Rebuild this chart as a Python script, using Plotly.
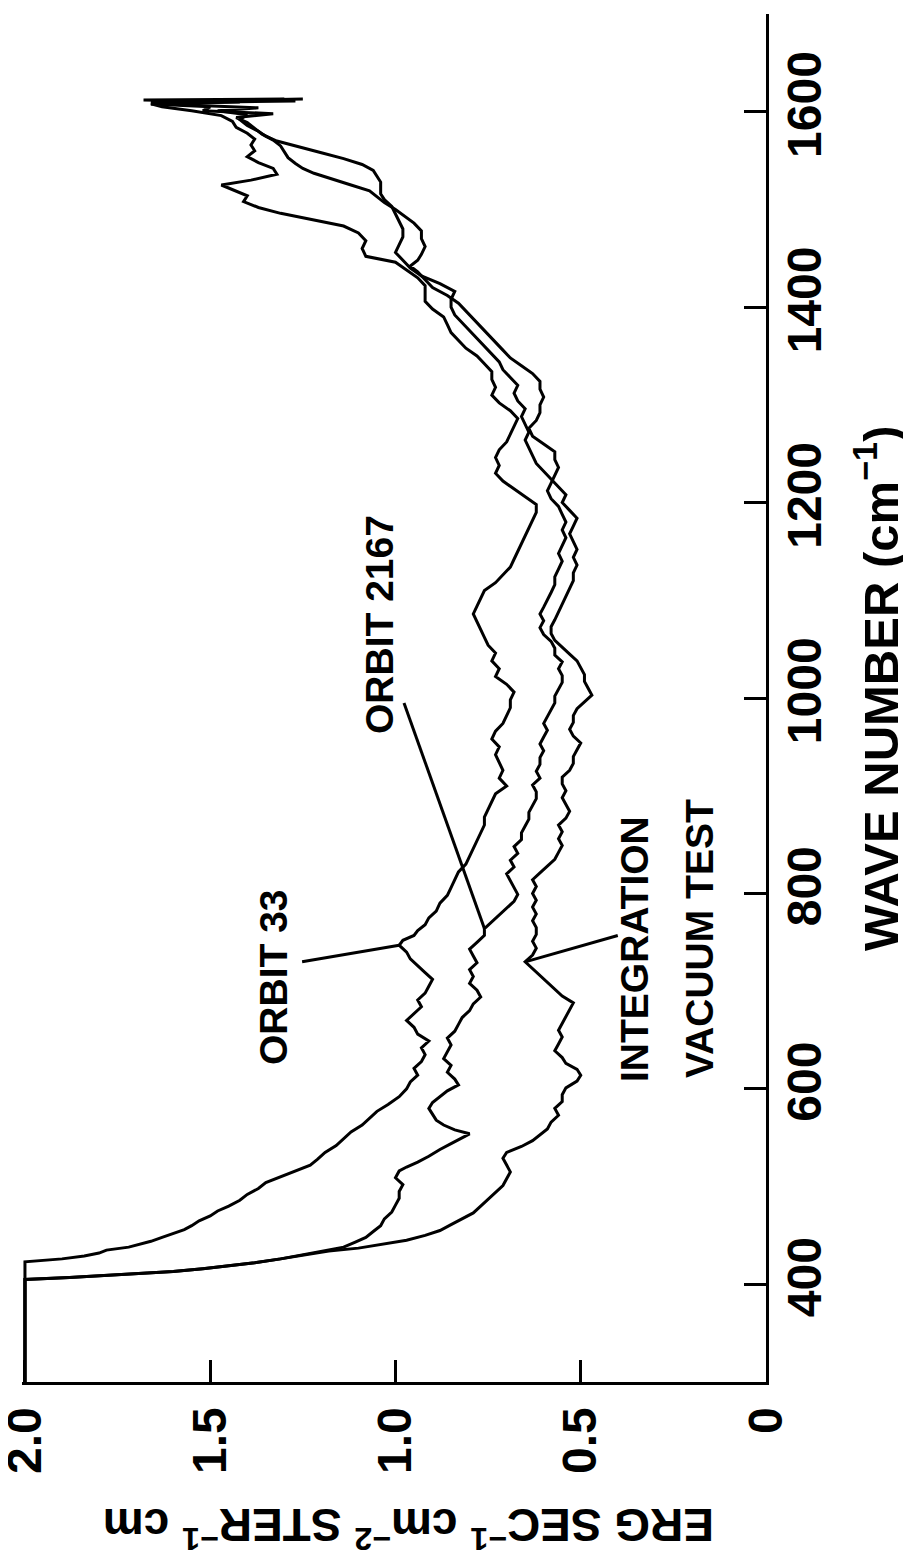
import plotly.graph_objects as go

# ---------------- data ----------------
orbit33_wn = [300, 423, 426, 429, 432, 435, 438, 441, 444, 448, 452, 456, 460, 465, 470, 475, 480, 486, 492, 498,
              504, 510, 516, 522, 528, 535, 542, 549, 556, 563, 570, 577, 584, 592, 600, 607, 614, 621, 628, 635,
              642, 649, 656, 663, 670, 677, 684, 691, 698, 705, 712, 719, 726, 733, 740, 747, 752, 757, 762, 768,
              775, 782, 790, 798, 806, 814, 822, 830, 838, 846, 854, 862, 870, 878, 886, 894, 902, 910, 918, 926,
              934, 942, 950, 958, 966, 974, 982, 990, 998, 1006, 1014, 1022, 1030, 1038, 1046, 1054, 1062, 1070,
              1078, 1086, 1094, 1102, 1110, 1118, 1126, 1134, 1142, 1150, 1158, 1166, 1174, 1182, 1190, 1198,
              1206, 1214, 1222, 1230, 1238, 1246, 1254, 1262, 1270, 1278, 1286, 1294, 1302, 1310, 1318, 1326,
              1334, 1342, 1350, 1358, 1366, 1374, 1382, 1390, 1398, 1406, 1414, 1422, 1430, 1438, 1446, 1452,
              1460, 1468, 1476, 1483, 1490, 1496, 1502, 1508, 1514, 1520, 1525, 1530, 1536, 1542, 1548, 1554,
              1560, 1566, 1572, 1578, 1584, 1590, 1596, 1601, 1605, 1608, 1610, 1612, 1613]
orbit33_val = [2.0, 2.0, 1.90, 1.84, 1.80, 1.78, 1.72, 1.69, 1.66, 1.63, 1.60, 1.57, 1.55, 1.53, 1.50, 1.48, 1.45, 1.42, 1.40, 1.37,
               1.35, 1.31, 1.27, 1.23, 1.21, 1.19, 1.16, 1.14, 1.12, 1.09, 1.07, 1.05, 1.02, 0.99, 0.97, 0.96, 0.94, 0.95, 0.93, 0.92,
               0.93, 0.91, 0.94, 0.95, 0.97, 0.95, 0.93, 0.94, 0.92, 0.91, 0.90, 0.92, 0.94, 0.96, 0.97, 0.99, 0.98, 0.95, 0.94, 0.92,
               0.91, 0.89, 0.88, 0.86, 0.85, 0.84, 0.83, 0.81, 0.80, 0.79, 0.78, 0.77, 0.76, 0.76, 0.75, 0.74, 0.73, 0.70, 0.72, 0.71,
               0.72, 0.73, 0.72, 0.74, 0.73, 0.71, 0.70, 0.69, 0.69, 0.68, 0.70, 0.73, 0.72, 0.74, 0.73, 0.75, 0.76, 0.77,
               0.78, 0.79, 0.78, 0.77, 0.76, 0.73, 0.71, 0.69, 0.68, 0.67, 0.66, 0.65, 0.64, 0.63, 0.62, 0.62,
               0.65, 0.68, 0.71, 0.73, 0.72, 0.73, 0.72, 0.70, 0.69, 0.68, 0.67, 0.69, 0.72, 0.74, 0.73, 0.74,
               0.74, 0.76, 0.78, 0.81, 0.83, 0.85, 0.86, 0.87, 0.90, 0.92, 0.92, 0.92, 0.94, 0.97, 1.00, 1.08,
               1.09, 1.08, 1.10, 1.14, 1.23, 1.31, 1.37, 1.41, 1.40, 1.44, 1.47, 1.39, 1.32, 1.33, 1.37, 1.40,
               1.38, 1.39, 1.38, 1.40, 1.43, 1.44, 1.47, 1.55, 1.63, 1.66, 1.42, 1.68, 1.30]

orbit2167_wn = [300, 405, 407, 409, 411, 413, 416, 419, 422, 426, 430, 434, 438, 443, 448, 454, 460, 467, 474, 481,
                488, 495, 502, 509, 516, 520, 525, 531, 538, 544, 550, 554, 558, 563, 568, 574, 580, 586, 592, 598,
                604, 610, 617, 624, 631, 638, 645, 652, 659, 666, 673, 680, 687, 694, 701, 708, 715, 722, 729, 736,
                743, 750, 757, 764, 771, 778, 785, 792, 799, 806, 813, 820, 827, 834, 841, 848, 855, 862, 869, 876,
                883, 890, 897, 904, 911, 918, 925, 932, 939, 946, 953, 960, 967, 974, 981, 988, 995, 1002, 1009, 1016,
                1023, 1030, 1037, 1044, 1051, 1058, 1065, 1072, 1079, 1086, 1093, 1100, 1108, 1116, 1124, 1132, 1140,
                1148, 1156, 1164, 1172, 1180, 1188, 1196, 1204, 1212, 1220, 1228, 1236, 1244, 1252, 1260, 1268, 1276,
                1284, 1292, 1300, 1308, 1316, 1324, 1332, 1340, 1348, 1356, 1364, 1372, 1380, 1388, 1396, 1404, 1412,
                1420, 1428, 1436, 1442, 1448, 1454, 1462, 1470, 1478, 1486, 1494, 1500, 1507, 1513, 1519, 1525, 1531,
                1537, 1542, 1547, 1553, 1559, 1565, 1571, 1577, 1583, 1589, 1594, 1598, 1601, 1605, 1608, 1610, 1611]
orbit2167_val = [2.0, 2.0, 1.88, 1.78, 1.68, 1.60, 1.52, 1.45, 1.38, 1.31, 1.25, 1.19, 1.14, 1.11, 1.08, 1.06, 1.04, 1.03, 1.01, 1.00,
                 0.99, 0.99, 0.98, 1.00, 0.99, 0.97, 0.94, 0.91, 0.88, 0.85, 0.82, 0.80, 0.84, 0.87, 0.89, 0.90, 0.91, 0.90, 0.88, 0.86,
                 0.83, 0.84, 0.86, 0.85, 0.87, 0.86, 0.85, 0.86, 0.84, 0.83, 0.82, 0.80, 0.79, 0.77, 0.78, 0.80, 0.79, 0.80, 0.78, 0.79,
                 0.80, 0.78, 0.76, 0.76, 0.74, 0.72, 0.70, 0.68, 0.67, 0.68, 0.69, 0.70, 0.68, 0.69, 0.67, 0.68, 0.66, 0.66, 0.65, 0.64,
                 0.64, 0.63, 0.62, 0.62, 0.63, 0.61, 0.62, 0.61, 0.61, 0.60, 0.61, 0.60, 0.59, 0.60, 0.59, 0.58, 0.57, 0.57, 0.56, 0.55,
                 0.55, 0.56, 0.55, 0.57, 0.57, 0.58, 0.60, 0.61, 0.60, 0.61, 0.60, 0.59, 0.58, 0.57, 0.57, 0.56, 0.55,
                 0.56, 0.55, 0.54, 0.55, 0.54, 0.55, 0.56, 0.58, 0.59, 0.58, 0.57, 0.56, 0.57, 0.57, 0.60, 0.63, 0.64,
                 0.62, 0.61, 0.61, 0.60, 0.61, 0.61, 0.63, 0.66, 0.69, 0.71, 0.73, 0.75, 0.77, 0.79, 0.81, 0.83, 0.86,
                 0.90, 0.92, 0.94, 0.96, 0.94, 0.93, 0.92, 0.93, 0.93, 0.95, 0.98, 1.00, 1.03, 1.05, 1.07, 1.12, 1.17,
                 1.22, 1.25, 1.27, 1.29, 1.30, 1.31, 1.33, 1.36, 1.38, 1.40, 1.43, 1.33, 1.52, 1.50, 1.66, 1.47, 1.27]

vacuum_wn = [300, 405, 407, 409, 411, 413, 416, 419, 422, 426, 430, 434, 437, 441, 445, 450, 455, 461, 467, 473,
             480, 487, 494, 501, 508, 515, 522, 529, 535, 541, 547, 553, 559, 566, 573, 580, 587, 594, 601, 608,
             614, 620, 626, 632, 639, 646, 653, 660, 667, 674, 681, 688, 695, 702, 709, 716, 723, 730, 737, 744,
             751, 758, 765, 772, 779, 786, 793, 800, 807, 814, 821, 828, 835, 842, 849, 856, 863, 870, 877, 884,
             891, 898, 905, 912, 919, 926, 933, 940, 947, 954, 961, 968, 975, 982, 989, 996, 1003, 1010, 1017, 1024,
             1031, 1038, 1045, 1052, 1059, 1066, 1073, 1080, 1088, 1096, 1104, 1112, 1120, 1128, 1136, 1144, 1152,
             1160, 1168, 1176, 1184, 1192, 1200, 1208, 1216, 1224, 1232, 1240, 1248, 1256, 1264, 1272, 1280, 1288,
             1296, 1304, 1312, 1320, 1328, 1336, 1344, 1352, 1360, 1368, 1376, 1384, 1392, 1400, 1408, 1416, 1424,
             1432, 1440, 1448, 1456, 1464, 1472, 1480, 1488, 1496, 1503, 1510, 1516, 1522, 1528, 1534, 1540, 1546,
             1552, 1558, 1564, 1570, 1575, 1580, 1586, 1592, 1597, 1601, 1604, 1607, 1610, 1612, 1613]
vacuum_val = [2.0, 2.0, 1.88, 1.78, 1.68, 1.60, 1.52, 1.45, 1.38, 1.31, 1.25, 1.18, 1.10, 1.03, 0.97, 0.92, 0.88, 0.85, 0.82, 0.79,
              0.77, 0.75, 0.73, 0.71, 0.70, 0.69, 0.70, 0.71, 0.70, 0.66, 0.63, 0.61, 0.59, 0.58, 0.56, 0.57, 0.55, 0.55, 0.54, 0.51,
              0.50, 0.51, 0.54, 0.55, 0.57, 0.56, 0.55, 0.56, 0.55, 0.54, 0.53, 0.52, 0.55, 0.57, 0.59, 0.61, 0.63, 0.65, 0.63, 0.62,
              0.63, 0.62, 0.62, 0.63, 0.62, 0.63, 0.62, 0.63, 0.62, 0.63, 0.61, 0.59, 0.57, 0.56, 0.55, 0.56, 0.55, 0.56, 0.54, 0.53,
              0.54, 0.55, 0.54, 0.55, 0.55, 0.53, 0.52, 0.52, 0.51, 0.50, 0.52, 0.53, 0.52, 0.52, 0.51, 0.49, 0.47, 0.48, 0.49, 0.49,
              0.50, 0.51, 0.53, 0.55, 0.57, 0.58, 0.58, 0.57, 0.56, 0.55, 0.54, 0.53, 0.52, 0.52, 0.51, 0.52, 0.51,
              0.52, 0.53, 0.52, 0.51, 0.53, 0.55, 0.54, 0.56, 0.58, 0.60, 0.62, 0.63, 0.64, 0.65, 0.64, 0.65, 0.66,
              0.65, 0.67, 0.68, 0.67, 0.69, 0.71, 0.72, 0.74, 0.76, 0.78, 0.80, 0.82, 0.84, 0.85, 0.85, 0.84, 0.88,
              0.93, 0.96, 0.98, 1.00, 0.99, 0.98, 0.98, 0.99, 1.00, 1.01, 1.03, 1.04, 1.04, 1.04, 1.05, 1.06, 1.09,
              1.14, 1.20, 1.26, 1.32, 1.35, 1.37, 1.40, 1.42, 1.40, 1.48, 1.37, 1.58, 1.66, 1.42, 1.25]

radiance_ticks = [0, 0.5, 1.0, 1.5, 2.0]
radiance_ticktext = ["0", "0.5", "1.0", "1.5", "2.0"]
wn_ticks = [400, 600, 800, 1000, 1200, 1400, 1600]

# ---------------- layout helpers ----------------
# the page body has an 8px margin, so the figure is drawn 8px in from the window corner
OFF = 8
W, H = 911 - 2 * OFF, 1560 - 2 * OFF
L, R, T, B = 14, 137, 6, 170
PW, PH = W - L - R, H - T - B


def paper(px, py):
    """window pixel -> paper coordinate"""
    return (px - OFF - L) / PW, (H - B - (py - OFF)) / PH


FONT = "Liberation Sans, Arial, Helvetica, sans-serif"
INK = "black"

fig = go.Figure()
for wn, val in [(orbit33_wn, orbit33_val), (orbit2167_wn, orbit2167_val), (vacuum_wn, vacuum_val)]:
    fig.add_trace(go.Scatter(x=val, y=wn, mode="lines",
                             line=dict(color=INK, width=3), hoverinfo="skip",
                             showlegend=False))

# leader lines (data coordinates: value, wave number)
leaders = [((1.252, 730), (0.99, 747)),
           ((0.977, 995), (0.76, 764)),
           ((0.40, 757), (0.65, 730))]
for (x0, y0), (x1, y1) in leaders:
    fig.add_shape(type="line", xref="x", yref="y", x0=x0, y0=y0, x1=x1, y1=y1,
                  line=dict(color=INK, width=3))

labels = [("ORBIT 33", 273, 977), ("ORBIT 2167", 379, 625),
          ("INTEGRATION", 634, 949), ("VACUUM TEST", 699, 939)]
for txt, px, py in labels:
    ax, ay = paper(px, py)
    fig.add_annotation(text=txt, x=ax, y=ay, xref="paper", yref="paper",
                       textangle=-90, showarrow=False, xanchor="center", yanchor="middle",
                       font=dict(family=FONT, size=39, color=INK, weight="bold"))

tx, ty = paper(877, 688)
fig.add_annotation(text="WAVE NUMBER (cm<sup>\u22121</sup>)", x=tx, y=ty, xref="paper", yref="paper",
                   textangle=-90, showarrow=False, xanchor="center", yanchor="middle",
                   font=dict(family=FONT, size=49, color=INK, weight="bold"))
tx, ty = paper(409, 1528)
fig.add_annotation(text="ERG SEC<sup>\u22121</sup> cm<sup>\u22122</sup> STER<sup>\u22121</sup> cm",
                   x=tx, y=ty, xref="paper", yref="paper",
                   textangle=180, showarrow=False, xanchor="center", yanchor="middle",
                   font=dict(family=FONT, size=46, color=INK, weight="bold"))

fig.update_xaxes(range=[2.008, 0], tickvals=radiance_ticks, ticktext=radiance_ticktext,
                 ticks="inside", ticklen=22, tickwidth=3, tickcolor=INK,
                 showline=True, linewidth=3, linecolor=INK, showgrid=False, zeroline=False,
                 tickangle=-90, ticklabelstandoff=3, ticklabeloverflow="allow",
                 tickfont=dict(family=FONT, size=48, color=INK, weight="bold"))
fig.update_yaxes(range=[300, 1700], tickvals=wn_ticks, side="right",
                 ticks="inside", ticklen=22, tickwidth=3, tickcolor=INK,
                 showline=True, linewidth=3, linecolor=INK, showgrid=False, zeroline=False,
                 tickangle=-90, ticklabelstandoff=-6, ticklabeloverflow="allow",
                 tickfont=dict(family=FONT, size=48, color=INK, weight="bold"))

fig.update_layout(width=W, height=H, margin=dict(l=L, r=R, t=T, b=B, autoexpand=False),
                  paper_bgcolor="white", plot_bgcolor="white", showlegend=False,
                  hovermode=False)

fig.write_html("out.html")
